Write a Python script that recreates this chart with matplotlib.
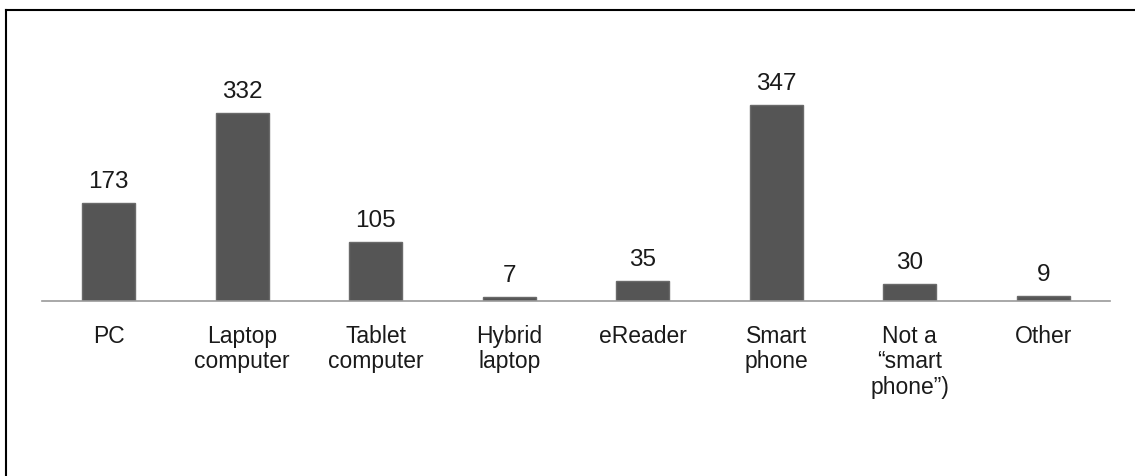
import matplotlib
matplotlib.use('Agg')
import matplotlib.pyplot as plt
from matplotlib.lines import Line2D

categories = ['PC', 'Laptop\ncomputer', 'Tablet\ncomputer', 'Hybrid\nlaptop',
              'eReader', 'Smart\nphone', 'Not a\n\u201csmart\nphone\u201d)', 'Other']
counts = [173, 332, 105, 7, 35, 347, 30, 9]

plt.rcParams['font.family'] = ['Liberation Sans', 'DejaVu Sans']

fig = plt.figure(figsize=(11.35, 4.76), dpi=100)
ax = fig.add_axes([42 / 1135, 1 - 301 / 476, 1068 / 1135, 241 / 476])

x = range(len(categories))
bars = ax.bar(x, counts, width=0.4, color='#555555', edgecolor='#6a6a6a', linewidth=1.0)
for b, v in zip(bars, counts):
    ax.annotate(str(v), (b.get_x() + b.get_width() / 2, v), xytext=(0, 7),
                textcoords='offset points', ha='center', va='bottom',
                fontsize=17.5, color='#1a1a1a')

ax.set_xlim(-0.5, len(categories) - 0.5)
ax.set_ylim(0, 426)
ax.set_xticks(list(x))
ax.set_xticklabels(categories, fontsize=16.5, color='#1a1a1a', linespacing=1.15, va='top')
ax.tick_params(axis='x', length=0, pad=17)
ax.set_yticks([])
for s in ['top', 'right', 'left']:
    ax.spines[s].set_visible(False)
ax.spines['bottom'].set_color('#999999')
ax.spines['bottom'].set_linewidth(1.2)

# frame lines on top and left edge
fig.add_artist(Line2D([6 / 1135, 1], [1 - 10 / 476] * 2, color='black', linewidth=1.5,
                      transform=fig.transFigure))
fig.add_artist(Line2D([6 / 1135] * 2, [0, 1 - 10 / 476], color='black', linewidth=1.5,
                      transform=fig.transFigure))

fig.savefig('out.png', dpi=100)
